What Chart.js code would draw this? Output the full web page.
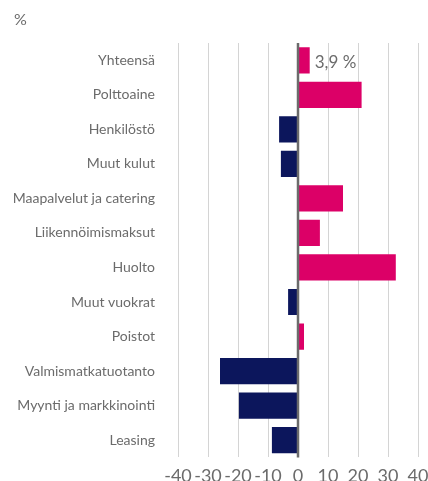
<!DOCTYPE html>
<html>
<head>
<meta charset="utf-8">
<script src="https://cdn.jsdelivr.net/npm/chart.js@4"></script>
<style>
  html, body { margin: 0; padding: 0; background: #fff; }
  #wrap { width: 428px; height: 481px; }
</style>
</head>
<body>
<div id="wrap"><canvas id="kulut"></canvas></div>
<script>
// Kustannusten muutos, %
const kategoriat = ['Yhteensä', 'Polttoaine', 'Henkilöstö', 'Muut kulut', 'Maapalvelut ja catering',
  'Liikennöimismaksut', 'Huolto', 'Muut vuokrat', 'Poistot', 'Valmismatkatuotanto',
  'Myynti ja markkinointi', 'Leasing'];
const muutos = [3.9, 21.2, -6.3, -5.7, 15.0, 7.3, 32.6, -3.3, 2.0, -26.0, -19.7, -8.7];
const akselinTikit = [-40, -30, -20, -10, 0, 10, 20, 30, 40];
const yksikko = '%';

const pinkki = '#dc0067';
const sininen = '#0c165c';
const harmaa = '#6b6b6b';

// yksikkö vasempaan yläkulmaan, nollaviiva palkkien päälle, arvo Yhteensä-palkin perään
const arvoLappu = {
  id: 'arvoLappu',
  afterDatasetsDraw(chart) {
    const ctx = chart.ctx;
    ctx.save();
    ctx.fillStyle = harmaa;
    ctx.font = '16px Lato';
    ctx.textBaseline = 'middle';
    ctx.fillText(yksikko, 14, 20);

    const x0 = chart.scales.x.getPixelForValue(0);
    ctx.strokeStyle = harmaa;
    ctx.lineWidth = 2.5;
    ctx.beginPath();
    ctx.moveTo(x0, chart.chartArea.top);
    ctx.lineTo(x0, chart.chartArea.bottom);
    ctx.stroke();

    const bar = chart.getDatasetMeta(0).data[0];
    ctx.font = '17px Lato';
    ctx.fillText(String(muutos[0]).replace('.', ',') + ' %', bar.x + 5, bar.y + 2);
    ctx.restore();
  }
};

new Chart(document.getElementById('kulut'), {
  type: 'bar',
  data: {
    labels: kategoriat,
    datasets: [{
      data: muutos,
      backgroundColor: muutos.map(v => v >= 0 ? pinkki : sininen),
      barPercentage: 0.76,
      categoryPercentage: 1
    }]
  },
  options: {
    indexAxis: 'y',
    responsive: true,
    maintainAspectRatio: false,
    animation: false,
    layout: { padding: { left: 0, right: 10, top: 43, bottom: -14 } },
    plugins: {
      legend: { display: false },
      tooltip: { enabled: false },
      title: { display: false }
    },
    scales: {
      x: {
        min: -40,
        max: 40,
        afterBuildTicks: axis => { axis.ticks = akselinTikit.map(v => ({ value: v })); },
        afterFit: axis => { axis.paddingLeft = 0; axis.paddingRight = 0; },
        grid: {
          color: '#d4d4d4',
          lineWidth: 1,
          drawTicks: false
        },
        border: { display: false },
        ticks: {
          color: harmaa,
          font: { family: 'Lato', size: 18 },
          padding: 8,
          maxRotation: 0,
          autoSkip: false
        }
      },
      y: {
        grid: { display: false },
        border: { display: false },
        afterFit: axis => { axis.width = 178; },
        ticks: {
          color: harmaa,
          font: { family: 'Lato', size: 14 },
          padding: 15
        }
      }
    }
  },
  plugins: [arvoLappu]
});
</script>
</body>
</html>
